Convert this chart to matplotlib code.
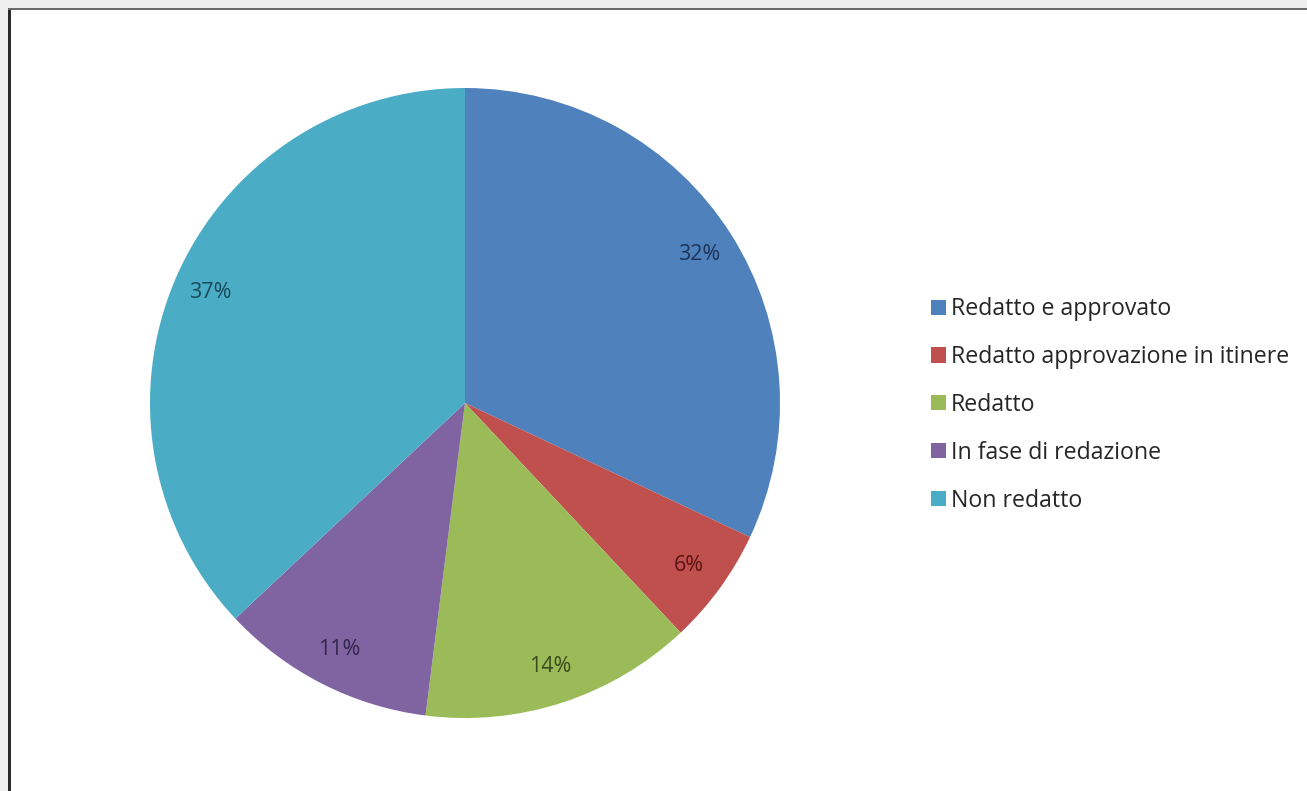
import matplotlib
matplotlib.use("Agg")
import matplotlib.pyplot as plt
from matplotlib.patches import Rectangle

# Data
categories = [
    "Redatto e approvato",
    "Redatto approvazione in itinere",
    "Redatto",
    "In fase di redazione",
    "Non redatto",
]
shares = [32, 6, 14, 11, 37]

slice_colors = ["#4F81BD", "#C0504D", "#9BBB59", "#8064A2", "#4BACC6"]
label_colors = ["#1D3557", "#5A1412", "#3B4A1C", "#33264A", "#1A4A58"]

W, H = 1307, 791
fig = plt.figure(figsize=(W / 100, H / 100), dpi=100, facecolor="#efefef")

# White chart panel with a dark frame on the top and left edges
fig.patches.append(Rectangle((10 / W, 0), 1 - 10 / W, 1 - 10 / H,
                             transform=fig.transFigure, facecolor="white",
                             edgecolor="none", zorder=-3))
fig.patches.append(Rectangle((8 / W, 0), 2.5 / W, 1 - 8 / H,
                             transform=fig.transFigure, facecolor="#2a2a2a",
                             edgecolor="none", zorder=-2))
fig.patches.append(Rectangle((8 / W, 1 - 10 / H), 1 - 8 / W, 2.5 / H,
                             transform=fig.transFigure, facecolor="#6a6a6a",
                             edgecolor="none", zorder=-2))

# Pie axes: center (465, 403) px, radius 315 px
cx, cy, r = 465, 403, 315
ax = fig.add_axes([(cx - r) / W, (H - cy - r) / H, 2 * r / W, 2 * r / H])
ax.set_facecolor("none")
ax.set_zorder(1)

wedges, texts, autotexts = ax.pie(
    shares,
    colors=slice_colors,
    startangle=90,
    counterclock=False,
    radius=1.0,
    autopct=lambda p: f"{p:.0f}%",
    pctdistance=0.88,
    wedgeprops=dict(linewidth=0),
    textprops=dict(family="Open Sans", fontsize=15.5),
)
for t, c in zip(autotexts, label_colors):
    t.set_color(c)

ax.set_xlim(-1, 1)
ax.set_ylim(-1, 1)
ax.set_aspect("equal")
ax.axis("off")

leg = fig.legend(
    wedges, categories,
    loc="upper left",
    bbox_to_anchor=(922 / W, 1 - 288 / H),
    frameon=False,
    prop=dict(family="Open Sans", size=16.7),
    handlelength=0.62,
    handleheight=0.62,
    handletextpad=0.22,
    labelspacing=1.03,
    borderaxespad=0,
)
for txt in leg.get_texts():
    txt.set_color("#262626")

fig.savefig("out.png", dpi=100, facecolor=fig.get_facecolor())
